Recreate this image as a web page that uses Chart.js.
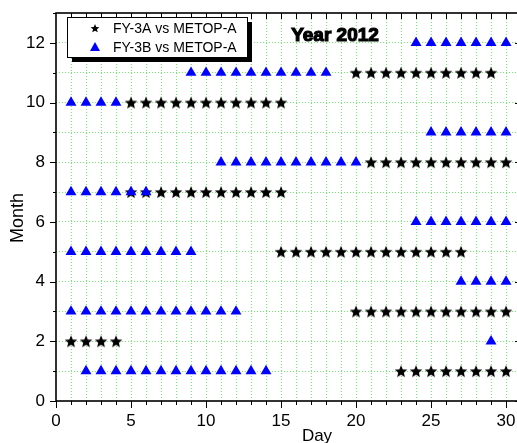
<!DOCTYPE html>
<html>
<head>
<meta charset="utf-8">
<script src="https://cdn.jsdelivr.net/npm/chart.js@4/dist/chart.umd.min.js"></script>
<style>
  html, body { margin: 0; padding: 0; background: #fff; overflow: hidden; }
  canvas { display: block; }
</style>
</head>
<body>
<canvas id="chart" width="517" height="443"></canvas>
<script>
// days with a match, one list per month (Jan..Dec)
const months = [1, 2, 3, 4, 5, 6, 7, 8, 9, 10, 11, 12];
const fy3aDays = [
    [23, 24, 25, 26, 27, 28, 29, 30],
    [1, 2, 3, 4],
    [20, 21, 22, 23, 24, 25, 26, 27, 28, 29, 30],
    [],
    [15, 16, 17, 18, 19, 20, 21, 22, 23, 24, 25, 26, 27],
    [],
    [5, 6, 7, 8, 9, 10, 11, 12, 13, 14, 15],
    [21, 22, 23, 24, 25, 26, 27, 28, 29, 30],
    [],
    [5, 6, 7, 8, 9, 10, 11, 12, 13, 14, 15],
    [20, 21, 22, 23, 24, 25, 26, 27, 28, 29],
    []
];
const fy3bDays = [
    [2, 3, 4, 5, 6, 7, 8, 9, 10, 11, 12, 13, 14],
    [29],
    [1, 2, 3, 4, 5, 6, 7, 8, 9, 10, 11, 12],
    [27, 28, 29, 30],
    [1, 2, 3, 4, 5, 6, 7, 8, 9],
    [24, 25, 26, 27, 28, 29, 30],
    [1, 2, 3, 4, 5, 6],
    [11, 12, 13, 14, 15, 16, 17, 18, 19, 20],
    [25, 26, 27, 28, 29, 30],
    [1, 2, 3, 4],
    [9, 10, 11, 12, 13, 14, 15, 16, 17, 18],
    [24, 25, 26, 27, 28, 29, 30]
];
const seriesNames = ['FY-3A vs METOP-A', 'FY-3B vs METOP-A'];
const xTickLabels = [0, 5, 10, 15, 20, 25, 30];
const yTickLabels = [0, 2, 4, 6, 8, 10, 12];
const titleText = 'Year 2012';

const FONT = "'Liberation Sans', Arial, sans-serif";
const GREEN = 'rgb(110, 240, 110)';
const X_END = 31;      // right axis of the original frame (cropped by the picture)
const X_VISIBLE = 30.73;

function toPoints(byMonth) {
    const pts = [];
    byMonth.forEach((days, i) => days.forEach(d => pts.push({ x: d, y: months[i] })));
    return pts;
}

// filled five point star used as point style
function starImage(r) {
    const c = document.createElement('canvas');
    c.width = c.height = Math.ceil(2 * r + 2);
    const g = c.getContext('2d');
    g.fillStyle = '#000';
    g.beginPath();
    for (let i = 0; i < 10; i++) {
        const rad = i % 2 ? r * 0.45 : r;
        const a = -Math.PI / 2 + i * Math.PI / 5;
        g.lineTo(c.width / 2 + rad * Math.cos(a), c.height / 2 + 0.6 + rad * Math.sin(a));
    }
    g.closePath();
    g.fill();
    return c;
}
const bigStar = starImage(6.6);
const smallStar = starImage(4.6);

// frame, tick marks, legend, labels
const decorations = {
    id: 'decorations',
    afterDraw(chart) {
        const ctx = chart.ctx;
        const xs = chart.scales.x, ys = chart.scales.y;
        const { left, top, bottom } = chart.chartArea;
        const right = xs.getPixelForValue(X_END);
        ctx.save();
        ctx.strokeStyle = '#000';
        ctx.lineWidth = 1;
        ctx.beginPath();
        for (let d = 0; d <= X_END; d++) {
            const px = Math.round(xs.getPixelForValue(d)) + 0.5;
            const len = d % 5 === 0 ? 7 : 4;
            ctx.moveTo(px, bottom); ctx.lineTo(px, bottom + len);
            if (d > 0 && d < X_END) { ctx.moveTo(px, top); ctx.lineTo(px, top + 6); }
        }
        for (let m = 0; m <= 13; m++) {
            const py = Math.round(ys.getPixelForValue(m)) + 0.5;
            const len = m % 2 === 0 ? 6 : 3;
            ctx.moveTo(left, py); ctx.lineTo(left - len, py);
            ctx.moveTo(right, py); ctx.lineTo(right - len, py);
        }
        ctx.stroke();
        ctx.lineWidth = 1.6;
        ctx.strokeRect(left, top, right - left, bottom - top);

        // legend with shadow
        ctx.fillStyle = '#000';
        ctx.fillRect(72, 22, 180, 40);
        ctx.fillStyle = '#fff';
        ctx.fillRect(67, 17, 180, 40);
        ctx.lineWidth = 1;
        ctx.strokeRect(67.5, 17.5, 180, 40);
        ctx.drawImage(smallStar, 95 - smallStar.width / 2, 28 - smallStar.height / 2);
        ctx.fillStyle = '#0000ff';
        ctx.beginPath();
        ctx.moveTo(95, 42); ctx.lineTo(100, 51); ctx.lineTo(90, 51);
        ctx.closePath(); ctx.fill();
        ctx.fillStyle = '#000';
        ctx.font = '14px ' + FONT;
        ctx.textBaseline = 'alphabetic';
        ctx.fillText(seriesNames[0], 113, 33);
        ctx.fillText(seriesNames[1], 113, 52);

        // title
        ctx.font = 'bold 19px ' + FONT;
        ctx.textAlign = 'center';
        ctx.lineWidth = 1.2;
        ctx.fillText(titleText, 335, 41);
        ctx.strokeText(titleText, 335, 41);

        // axis titles
        ctx.font = '17px ' + FONT;
        ctx.fillText('Day', 317, 441);
        ctx.translate(23, 218);
        ctx.rotate(-Math.PI / 2);
        ctx.font = '18px ' + FONT;
        ctx.fillText('Month', 0, 0);
        ctx.restore();
    }
};

const ctx = document.getElementById('chart').getContext('2d');
const chart = new Chart(ctx, {
    type: 'scatter',
    data: {
        datasets: [{
            label: seriesNames[0],
            data: toPoints(fy3aDays),
            pointStyle: bigStar,
            order: 2
        }, {
            label: seriesNames[1],
            data: toPoints(fy3bDays),
            pointStyle: 'triangle',
            pointRadius: 6.3,
            backgroundColor: '#0000ff',
            borderColor: '#0000ff',
            borderWidth: 0,
            order: 1
        }]
    },
    options: {
        responsive: false,
        animation: false,
        devicePixelRatio: 1,
        layout: { autoPadding: false, padding: { top: 13, right: 0, left: 0, bottom: 0 } },
        scales: {
            x: {
                type: 'linear',
                min: 0,
                max: X_VISIBLE,
                afterFit: s => { s.height = 42; s.paddingLeft = 0; s.paddingRight = 0; },
                ticks: {
                    stepSize: 1,
                    autoSkip: false,
                    includeBounds: false,
                    maxRotation: 0,
                    padding: 10,
                    color: '#000',
                    font: { family: FONT, size: 17 },
                    callback: v => xTickLabels.includes(v) ? String(v) : ''
                },
                grid: {
                    drawTicks: false,
                    color: c => (c.tick && c.tick.value > 0 && c.tick.value <= 30) ? GREEN : 'rgba(0,0,0,0)'
                },
                border: { display: false, dash: [1, 2] }
            },
            y: {
                type: 'linear',
                min: 0,
                max: 13,
                afterFit: s => { s.width = 56; s.paddingTop = 0; s.paddingBottom = 0; },
                ticks: {
                    stepSize: 1,
                    autoSkip: false,
                    padding: 11,
                    color: '#000',
                    font: { family: FONT, size: 17 },
                    callback: v => yTickLabels.includes(v) ? String(v) : ''
                },
                grid: {
                    drawTicks: false,
                    color: c => (c.tick && c.tick.value > 0 && c.tick.value < 13) ? GREEN : 'rgba(0,0,0,0)'
                },
                border: { display: false, dash: [1, 2] }
            }
        },
        plugins: {
            legend: { display: false },
            tooltip: { enabled: false }
        }
    },
    plugins: [decorations]
});
</script>
</body>
</html>
